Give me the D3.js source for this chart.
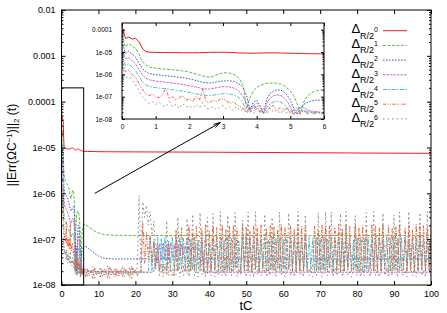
<!DOCTYPE html>
<html>
<head>
<meta charset="utf-8">
<script src="https://cdn.jsdelivr.net/npm/d3@7"></script>
<style>
  body { margin: 0; background: #fff; }
  svg { display: block; font-family: "Liberation Sans", Arial, Helvetica, sans-serif; }
</style>
</head>
<body>
<script>
// all error values below are given in units of 1e-8
var U = 1e-8;

// t = 0 .. 6, step 0.1 (shared by the inset and the start of the main plot)
var tEarly = d3.range(0, 61).map(function(i) { return i / 10; });

var redEarly = [16000, 4000, 4700, 3800, 4100, 3000, 1500, 1050, 990, 970,
  960, 955, 950, 950, 945, 945, 940, 940, 935, 935,
  930, 930, 930, 935, 940, 950, 960, 965, 970, 975,
  975, 970, 960, 945, 930, 915, 900, 890, 885, 885,
  890, 900, 910, 915, 920, 920, 915, 905, 895, 885,
  875, 870, 865, 860, 855, 850, 845, 840, 835, 830,
  825];
var greenEarly = [6000, 1700, 2400, 1900, 1450, 860, 370, 260, 218, 200,
  190, 182, 176, 170, 165, 160, 155, 150, 143, 135,
  126, 115, 104, 93, 84, 78, 76, 82, 94, 106,
  115, 118, 114, 103, 85, 60, 32, 3, 9, 18,
  26, 32, 36, 39, 41, 41, 40, 37, 32, 25,
  18, 11, 5, 1.8, 6, 10, 14, 17, 19, 20,
  21];
var blueEarly = [3000, 900, 1100, 800, 600, 330, 185, 130, 110, 102,
  97, 93, 90, 87, 84, 81, 78, 75, 71, 67,
  63, 58, 53, 48, 44, 42, 41, 42, 45, 48,
  50, 51, 51, 49, 44, 35, 24, 12, 2.5, 5.5,
  7, 4, 1.8, 8, 14, 18, 20, 20, 17, 12,
  7, 3, 1.6, 3, 4.5, 5.5, 6.2, 6.7, 7, 7.1,
  7.2];
var magentaEarly = [1500, 500, 560, 420, 300, 170, 95, 68, 58, 53,
  50, 48, 46, 44, 42, 41, 39, 37, 35, 33,
  31, 29, 27, 25, 23, 22, 22, 23, 25, 27,
  28, 28, 27, 25, 21, 16, 10, 5, 2, 4,
  5, 3.5, 1.7, 5, 8.5, 11, 12, 11.5, 9.5, 6.5,
  3.5, 1.6, 2.5, 3.5, 3.2, 2.6, 2.3, 2.2, 2.1, 2,
  2];
var cyanEarly = [800, 250, 300, 210, 150, 85, 48, 34, 29, 27,
  25.5, 24.5, 23.5, 22.5, 21.5, 20.5, 19.5, 18.5, 17.5, 16.5,
  15.5, 14.5, 13.5, 12.5, 11.8, 11.3, 11.2, 11.6, 12.3, 13,
  13.5, 13.6, 13.2, 12.2, 10.5, 8, 5, 2.2, 3, 3.8,
  3.4, 2.4, 2, 3.2, 4.8, 5.8, 6.2, 5.9, 4.8, 3.3,
  1.9, 2.6, 3.2, 2.1, 2.4, 2.2, 2, 1.9, 1.9, 1.9,
  1.9];
var orangeEarly = [400, 130, 150, 100, 75, 40, 22, 14, 11, 13,
  10, 9, 12, 24, 8, 10, 7, 9, 11, 7,
  8, 6, 10, 7, 22, 6, 5.5, 7, 6, 7.5,
  8, 6.5, 5, 6, 4.5, 3.5, 3, 2, 3.5, 2.5,
  4, 2, 3, 2.2, 3.5, 4, 2.5, 3.2, 2.2, 3,
  1.8, 2.6, 2, 1.7, 2.4, 1.8, 2.2, 1.7, 2.1, 1.6,
  2];
var grayEarly = [250, 70, 80, 55, 35, 20, 10, 7, 5, 6,
  4.5, 5.5, 4, 3.5, 6, 3.5, 4.5, 3, 5, 3.5,
  4, 3, 4.5, 3.2, 5.5, 3, 2.8, 3.6, 2.6, 3.4,
  4, 2.8, 3.5, 2.4, 3.6, 2.3, 2.8, 1.8, 2.5, 1.7,
  3, 1.9, 2.4, 1.6, 3.2, 2, 2.6, 1.7, 2.9, 1.8,
  2.3, 1.5, 2.4, 1.9, 2.6, 1.6, 2.1, 1.7, 2.3, 1.6,
  2];

// smooth tails, t = 6 .. 100
var tSmooth = [6, 7, 8, 9, 10, 11, 12, 14, 17, 20, 30, 40, 50, 60, 70, 80, 90, 100];
var redLate = [825, 822, 818, 815, 812, 810, 808, 806, 804, 802, 796, 790, 782, 774, 766, 758, 752, 746];
var greenLate = [21, 19.5, 17, 15, 13.7, 12.9, 12.5, 12.2, 12.1, 12, 12, 12, 12, 12, 12, 12, 12, 12];
var blueLate = [7.2, 6.6, 5.7, 4.9, 4.3, 3.95, 3.8, 3.7, 3.7, 3.7, 3.7, 3.7, 3.7, 3.7, 3.7, 3.7, 3.7, 3.7];

// magenta tail
var magT = [6, 24.5, 25, 25.5, 26, 26.5, 27, 27.5, 28, 28.5, 29, 29.5, 30, 30.5, 31, 31.5,
  32, 32.5, 33, 33.5, 34, 34.5, 35, 35.5, 36, 36.5, 37, 37.5, 38, 38.5, 100];
var magentaLate = [1.9, 1.9, 2, 4.5, 3, 8, 3.4, 8.4, 3.6, 7.8, 3.5, 8.2, 4, 7.6, 4.2, 7.8,
  4.5, 7.4, 4.6, 7.2, 5, 7, 5.2, 6.8, 5.5, 6.6, 5.8, 6.3, 6, 1.9, 1.9];

// noisy tails, t = 6 .. 100, step 0.5
var tFine = d3.range(0, 189).map(function(i) { return 6 + i / 2; });
var cyanLate = [1.9, 1.9, 1.9, 1.9, 1.9, 1.9, 1.9, 1.9, 1.9, 1.9,
  1.9, 1.9, 1.9, 1.9, 1.9, 1.9, 1.9, 1.9, 1.9, 1.9,
  1.9, 1.9, 1.9, 1.9, 1.9, 1.9, 1.9, 1.9, 1.9, 1.9,
  1.9, 1.9, 1.9, 1.9, 1.9, 1.9, 11, 2, 10, 2.2,
  11, 2, 10.5, 2.1, 11, 2, 9, 2.3, 11, 2,
  10, 2, 11, 2.2, 10.5, 2, 11, 1.9, 10, 2.1,
  11, 2, 9.5, 2.3, 10.8, 1.9, 11.2, 2.1, 8, 2,
  11, 2.2, 10.4, 1.9, 11, 2, 9.8, 2.1, 11.2, 2,
  10.6, 2, 11, 2.3, 9.2, 1.9, 11, 2, 10.7, 2.2,
  11.1, 2, 10, 2.1, 11, 1.9, 10.5, 2.2, 11, 2,
  9.6, 2.1, 11.2, 2, 10.8, 2.3, 11, 1.9, 10.2, 2,
  11, 2.2, 10.6, 2, 11.1, 1.9, 9.4, 2.1, 11, 2,
  10.8, 2, 11, 2.2, 10.3, 2, 11.2, 1.9, 10.6, 2.1,
  11, 2, 9.9, 2.3, 11, 2, 10.7, 2.1, 11.1, 1.9,
  10.4, 2, 11, 2.2, 10.9, 2, 9.6, 2.1, 11, 2,
  11.2, 1.9, 10.5, 2, 11, 2.2, 10.1, 2, 10.8, 2.1,
  11, 2, 9.8, 2.3, 11.1, 1.9, 10.6, 2, 11, 2.2,
  10.3, 2, 11, 2.1, 10.9, 2, 9.7, 2.2, 11, 1.9,
  10.6, 2, 11.1, 2.1, 10.4, 2, 11, 2.2, 10.8];
var orangeLate = [2, 1.5, 2.3, 1.6, 2.1, 1.4, 2.4, 1.7, 2, 1.5,
  2.2, 1.6, 1.9, 1.4, 2.5, 1.7, 2, 1.5, 2.3, 1.6,
  2.1, 1.5, 2.4, 1.8, 2, 1.4, 2.6, 1.7, 2.2, 1.6,
  2, 1.8, 22, 3, 14, 4, 12, 3, 9, 2.5,
  6, 2, 3, 1.8, 2.5, 1.7, 8, 2, 2.2, 1.6,
  16, 2, 2.5, 18, 2, 2.3, 1.8, 20, 2, 14,
  2, 19, 2.2, 2, 17, 2, 21, 1.8, 15, 2,
  20, 2, 18, 2.1, 2, 21, 1.9, 16, 2, 19,
  2, 20, 2.2, 17, 2, 1.8, 21, 2, 19, 2,
  15, 2, 20, 2.2, 18, 2, 21, 2, 1.9, 17,
  2, 20, 2.1, 19, 2, 16, 2, 21, 2.2, 18,
  2, 2.1, 20, 2, 17, 2, 21, 2, 19, 2,
  18, 2, 2.2, 1.9, 2.1, 20, 2, 16, 2, 21,
  2, 19, 2.1, 20, 2, 1.9, 18, 2, 21, 2,
  17, 2, 20, 2.2, 19, 2, 2.1, 21, 2, 18,
  2, 20, 2, 16, 2.1, 2, 21, 2, 19, 2,
  18, 2, 21, 2.2, 2, 20, 2, 17, 2, 19,
  2, 21, 2, 2.1, 18, 2, 20, 2, 16, 2,
  21, 2, 19, 2.2, 20, 2, 18, 2, 21];
var grayLate = [1.6, 2.4, 1.5, 2.2, 1.8, 2.6, 1.4, 2.1, 1.7, 2.5,
  1.5, 2.3, 1.9, 2.7, 1.4, 2.2, 1.6, 2.4, 1.5, 2.1,
  1.8, 2.6, 1.5, 2.2, 1.6, 2.5, 1.4, 2.3, 1.7, 2.4,
  90, 2, 65, 30, 55, 20, 40, 12, 25, 5,
  8, 1.6, 2.4, 1.5, 2.2, 25, 1.6, 2.3, 1.5, 2.1,
  1.7, 30, 1.5, 2.4, 1.6, 2.2, 28, 1.5, 2.3, 35,
  1.6, 2.1, 1.5, 38, 1.7, 2.4, 1.5, 30, 2, 1.6,
  36, 1.5, 2.2, 1.7, 40, 1.6, 2.3, 1.5, 33, 2,
  1.6, 2.4, 38, 1.5, 2.1, 1.7, 26, 2.3, 1.5, 39,
  1.6, 2.2, 1.5, 40, 1.7, 2.3, 1.6, 2.1, 35, 1.5,
  2.4, 1.6, 30, 2.2, 1.5, 2.3, 39, 1.6, 2.1, 1.5,
  2.4, 37, 1.6, 2.2, 1.5, 2.3, 40, 1.7, 2.1, 1.5,
  34, 2.2, 1.6, 2.4, 1.5, 2.1, 1.6, 38, 2.3, 1.5,
  2.2, 40, 1.6, 2.1, 39, 1.5, 2.4, 1.6, 2.2, 36,
  1.5, 2.3, 40, 1.6, 2.1, 1.5, 2.4, 33, 1.6, 2.2,
  1.5, 2.3, 1.6, 38, 2.1, 1.5, 2.4, 40, 1.6, 2.2,
  1.5, 2.3, 37, 1.6, 2.1, 1.5, 2.4, 1.6, 34, 2.2,
  1.5, 39, 2.3, 1.6, 2.1, 1.5, 40, 2.4, 1.6, 2.2,
  1.5, 2.3, 38, 1.6, 2.1, 1.5, 40, 2.2, 1.6];

var legendPowers = ["0", "1", "2", "3", "4", "5", "6"];
var colors = ["#ee1c1c", "#5dbb44", "#3050bb", "#cc66c8", "#44c0d4", "#f05a30", "#888888"];
var dashes = [null, "3,1.5", "1.5,1.5", "2.5,1", "4,1.5,1.5,1.5", "3,1.5,1,1.5,1,1.5", "1.5,3"];

var xTicks = [0, 10, 20, 30, 40, 50, 60, 70, 80, 90, 100];
var yTicks = [1e-8, 1e-7, 1e-6, 1e-5, 1e-4, 1e-3, 1e-2];
var yTickLabels = ["1e-08", "1e-07", "1e-06", "1e-05", "0.0001", "0.001", "0.01"];
var insetXTicks = [0, 1, 2, 3, 4, 5, 6];
var insetYTicks = [1e-8, 1e-7, 1e-6, 1e-5, 1e-4];
var insetYTickLabels = ["1e-08", "1e-07", "1e-06", "1e-05", "0.0001"];
var zoomBox = { t0: 0, t1: 6, lo: 1e-8, hi: 2e-4 };
var arrowFrom = [9, 1e-6], arrowTo = [43, 3.5e-5];

var FONT = '"Liberation Sans", Arial, Helvetica, sans-serif';

function pts(ts, vs) { return ts.map(function(t, i) { return [t, vs[i] * U]; }); }

var early = [redEarly, greenEarly, blueEarly, magentaEarly, cyanEarly, orangeEarly, grayEarly];
var late = [pts(tSmooth, redLate), pts(tSmooth, greenLate), pts(tSmooth, blueLate),
  pts(magT, magentaLate), pts(tFine, cyanLate), pts(tFine, orangeLate), pts(tFine, grayLate)];

var series = early.map(function(e, k) {
  var a = pts(tEarly, e);
  return {
    color: colors[k], dash: dashes[k], power: legendPowers[k],
    early: a,
    all: a.concat(late[k].filter(function(p) { return p[0] > 6; }))
  };
});

var svg = d3.select("body").append("svg").attr("width", 447).attr("height", 313);
var defs = svg.append("defs");

function isDecade(v) { var l = Math.log10(v); return Math.abs(l - Math.round(l)) < 1e-6; }

function frame(g, xs, ys, o) {
  var x0 = xs.range()[0], x1 = xs.range()[1], y0 = ys.range()[0], y1 = ys.range()[1];
  var top = ys.domain()[1];
  var minors = ys.ticks().filter(function(v) { return !isDecade(v) && v < top * 0.999; });
  var lab = function(d) { return o.yLabels[o.yTicks.indexOf(d)]; };

  g.append("g").attr("transform", "translate(0," + y0 + ")")
    .call(d3.axisBottom(xs).tickValues(o.xTicks).tickFormat(d3.format("d"))
      .tickSizeInner(-o.major).tickSizeOuter(0).tickPadding(o.xPad));
  g.append("g").attr("transform", "translate(0," + y1 + ")")
    .call(d3.axisTop(xs).tickValues(o.xTicks).tickFormat("")
      .tickSizeInner(-o.major).tickSizeOuter(0));
  g.append("g").attr("transform", "translate(" + x0 + ",0)")
    .call(d3.axisLeft(ys).tickValues(o.yTicks).tickFormat(lab)
      .tickSizeInner(-o.major).tickSizeOuter(0).tickPadding(o.yPad));
  g.append("g").attr("transform", "translate(" + x0 + ",0)")
    .call(d3.axisLeft(ys).tickValues(minors).tickFormat("")
      .tickSizeInner(-o.minor).tickSizeOuter(0));
  g.append("g").attr("transform", "translate(" + x1 + ",0)")
    .call(d3.axisRight(ys).tickValues(o.yTicks).tickFormat("")
      .tickSizeInner(-o.major).tickSizeOuter(0));
  g.append("g").attr("transform", "translate(" + x1 + ",0)")
    .call(d3.axisRight(ys).tickValues(minors).tickFormat("")
      .tickSizeInner(-o.minor).tickSizeOuter(0));

  g.selectAll(".domain").remove();
  g.selectAll("g").attr("font-size", o.font).attr("font-family", FONT);
  g.selectAll(".tick line").attr("stroke", "#000").attr("stroke-width", 1);
  g.selectAll(".tick text").attr("fill", "#000");

  g.append("rect").attr("x", x0).attr("y", y1).attr("width", x1 - x0).attr("height", y0 - y1)
    .attr("fill", "none").attr("stroke", "#000").attr("stroke-width", 1);
}

function drawLines(g, xs, ys, key, clipId) {
  var line = d3.line().x(function(d) { return xs(d[0]); }).y(function(d) { return ys(d[1]); });
  var cx = xs.range(), cy = ys.range();
  defs.append("clipPath").attr("id", clipId).append("rect")
    .attr("x", cx[0]).attr("y", cy[1]).attr("width", cx[1] - cx[0]).attr("height", cy[0] - cy[1]);
  var lg = g.append("g").attr("clip-path", "url(#" + clipId + ")");
  series.forEach(function(s) {
    lg.append("path").datum(s[key]).attr("d", line)
      .attr("fill", "none").attr("stroke", s.color).attr("stroke-width", 1)
      .attr("stroke-dasharray", s.dash);
  });
}

// main plot
var x = d3.scaleLinear().domain([0, 100]).range([61.5, 431]);
var y = d3.scaleLog().domain([1e-8, 1e-2]).range([285, 10]);
var gMain = svg.append("g");
drawLines(gMain, x, y, "all", "clipMain");
frame(gMain, x, y, { xTicks: xTicks, yTicks: yTicks, yLabels: yTickLabels,
  major: 4, minor: 2, xPad: 6, yPad: 6, font: 9 });

// zoom rectangle
gMain.append("rect")
  .attr("x", x(zoomBox.t0)).attr("y", y(zoomBox.hi))
  .attr("width", x(zoomBox.t1) - x(zoomBox.t0)).attr("height", y(zoomBox.lo) - y(zoomBox.hi))
  .attr("fill", "none").attr("stroke", "#000").attr("stroke-width", 1);

// arrow
var a0 = [x(arrowFrom[0]), y(arrowFrom[1])], a1 = [x(arrowTo[0]), y(arrowTo[1])];
var ang = Math.atan2(a1[1] - a0[1], a1[0] - a0[0]);
var hl = 7, ha = 0.26;
gMain.append("path")
  .attr("d", "M" + a0 + "L" + a1 +
    "M" + [a1[0] - hl * Math.cos(ang - ha), a1[1] - hl * Math.sin(ang - ha)] + "L" + a1 +
    "L" + [a1[0] - hl * Math.cos(ang + ha), a1[1] - hl * Math.sin(ang + ha)])
  .attr("fill", "none").attr("stroke", "#000").attr("stroke-width", 1);

// axis titles
svg.append("text").attr("x", 246).attr("y", 310).attr("text-anchor", "middle")
  .attr("font-family", FONT).attr("font-size", 13).text("tC");

var yt = svg.append("text").attr("transform", "translate(16,145) rotate(-90)")
  .attr("text-anchor", "middle").attr("font-family", FONT).attr("font-size", 12);
yt.append("tspan").text("||Err(ΩC");
yt.append("tspan").attr("dy", -4).attr("font-size", 8).text("−1");
yt.append("tspan").attr("dy", 4).text(")||");
yt.append("tspan").attr("dy", 3).attr("font-size", 8).text("2");
yt.append("tspan").attr("dy", -3).text(" (t)");

// legend
series.forEach(function(s, k) {
  var ly = 30.7 + k * 14.7;
  var t = svg.append("text").attr("x", 378).attr("y", ly + 2.7).attr("text-anchor", "end")
    .attr("font-family", FONT).attr("font-size", 13);
  t.append("tspan").text("Δ");
  t.append("tspan").attr("font-size", 9).attr("dy", 5.3).text("R/2");
  t.append("tspan").attr("font-size", 7).attr("dy", -7).text(s.power);
  svg.append("line").attr("x1", 383).attr("x2", 407).attr("y1", ly).attr("y2", ly)
    .attr("stroke", s.color).attr("stroke-width", 1).attr("stroke-dasharray", s.dash);
});

// inset
var xi = d3.scaleLinear().domain([0, 6]).range([122, 324]);
var yi = d3.scaleLog().domain([1e-8, 2e-4]).range([119, 23]);
var gIn = svg.append("g");
drawLines(gIn, xi, yi, "early", "clipInset");
frame(gIn, xi, yi, { xTicks: insetXTicks, yTicks: insetYTicks, yLabels: insetYTickLabels,
  major: 3, minor: 1.5, xPad: 5.5, yPad: 10, font: 6.5 });
</script>
</body>
</html>
